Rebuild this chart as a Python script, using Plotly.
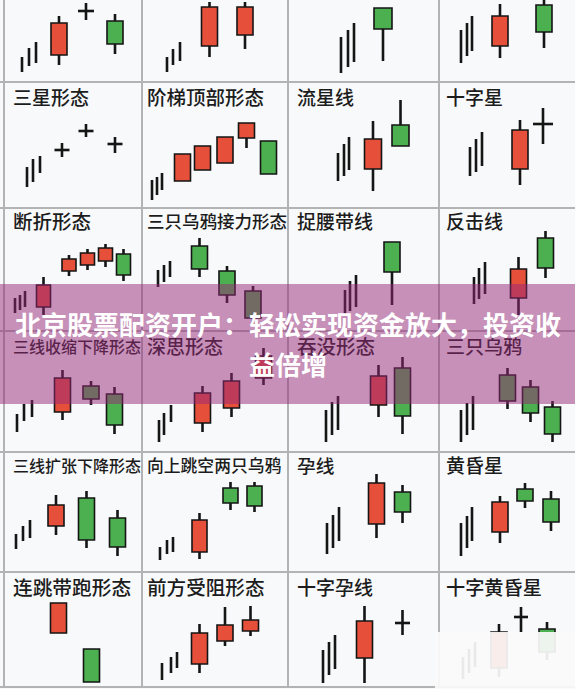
import plotly.graph_objects as go

# ---------------- layout of the grid (pixels) ----------------
FIG_W, FIG_H = 575, 689
COL_EDGES = [4, 142, 288, 439, 575]
ROW_EDGES = [0, 82, 208, 331, 452, 572, 687]

# ---------------- data ----------------
# trend sticks: (x, low, high) ; candles: (x, open, high, low, close)
# prices are measured upward from the bottom of each panel
R0C0_TREND = [(18, 10, 25), (25, 16, 34), (32, 19, 40)]
R0C0_CANDLES = [(55, 27, 66, 17, 59), (82, 71, 79, 62, 71), (111, 61, 68, 28, 38)]
R0C1_TREND = [(25, 10, 25), (31, 17, 33), (38, 21, 40)]
R0C1_CANDLES = [(67.5, 36, 80, 25, 75), (103, 47, 80, 33, 75)]
R0C2_TREND = [(53, 9, 45), (60, 15, 52), (66, 20, 59)]
R0C2_CANDLES = [(95, 74, 74, 21, 53)]
R0C3_TREND = [(22, 19, 52), (28, 26, 59), (33, 31, 66)]
R0C3_CANDLES = [(61, 36, 78, 24, 66), (105, 77, 82, 34, 50)]

SANXING_TREND = [(23, 21, 41), (29, 26, 49), (36, 35, 52)]
SANXING_CANDLES = [(58, 58, 65, 51, 58), (82, 77, 84, 71, 77), (111, 64, 71, 55, 64)]
JIETI_TREND = [(10, 8, 28), (15, 13, 31), (20, 18, 35)]
JIETI_CANDLES = [(40.5, 27, 54, 27, 54), (60.5, 38, 62, 38, 62), (83, 45, 71, 45, 71),
                 (104.5, 70, 85, 60, 85), (126.5, 67, 67, 34, 34)]
LIUXING_TREND = [(50, 27, 55), (56, 32, 64), (61, 38, 71)]
LIUXING_CANDLES = [(85, 39, 87, 17, 69), (112.5, 83, 108, 62, 62)]
SHIZIXING_TREND = [(31, 32, 61), (37, 36, 69), (43, 42, 76)]
SHIZIXING_CANDLES = [(81, 39, 88, 23, 78), (104, 84, 100, 64, 84)]

DUANZHE_TREND = [(11, 18, 33), (16, 21, 36), (21, 24, 40)]
DUANZHE_CANDLES = [(39.5, 24, 54, 16, 46), (65, 60, 76, 55, 72), (83.5, 66, 82, 61, 78),
                   (101.5, 70, 87, 64, 83), (119.5, 77, 82, 50, 56)]
SANZHI_JIELI_TREND = [(16, 44, 61), (22, 49, 66), (28, 54, 70)]
SANZHI_JIELI_CANDLES = [(57.5, 85, 93, 54, 62), (85, 60, 65, 28, 36), (111, 40, 45, 6, 13)]
ZHUOYAO_TREND = [(57, 16, 41), (62, 20, 50), (68, 24, 56)]
ZHUOYAO_CANDLES = [(104, 89, 89, 26, 59)]
FANJI_TREND = [(35, 27, 54), (40, 32, 63), (46, 37, 69)]
FANJI_CANDLES = [(79.5, 33, 74, 16, 62), (106.5, 93, 100, 53, 63)]

SHOUSUO_TREND = [(13, 20, 38), (20, 31, 48), (28, 35, 52)]
SHOUSUO_CANDLES = [(58.5, 40, 82, 32, 74), (87, 66, 71, 47, 53), (110.5, 58, 65, 18, 27)]
SHENSI_TREND = [(17, 10, 32), (22, 17, 39), (29, 30, 47)]
SHENSI_CANDLES = [(60.5, 29, 66, 20, 59), (89.5, 44, 79, 35, 71), (121.5, 74, 104, 67, 96)]
TUNMO_TREND = [(38, 10, 42), (44, 17, 50), (50, 22, 56)]
TUNMO_CANDLES = [(90.5, 47, 87, 35, 76), (114.5, 84, 95, 18, 36)]
SANZHI_TREND = [(22, 10, 42), (28, 17, 49), (34, 22, 56)]
SANZHI_CANDLES = [(68.5, 77, 84, 43, 51), (91.5, 65, 72, 30, 39), (113.5, 45, 51, 10, 18)]

KUOZHANG_TREND = [(12, 23, 38), (19, 31, 46), (26, 34, 52)]
KUOZHANG_CANDLES = [(52, 46, 77, 37, 67), (82.5, 74, 81, 24, 32), (113.5, 54, 62, 16, 25)]
TIAOKONG_TREND = [(18, 12, 25), (25, 18, 32), (31, 20, 35)]
TIAOKONG_CANDLES = [(57.5, 20, 59, 13, 52), (88.5, 84, 90, 62, 69), (112.5, 86, 90, 60, 66)]
YUNXIAN_TREND = [(39, 18, 49), (45, 24, 57), (51, 31, 65)]
YUNXIAN_CANDLES = [(88.5, 48, 98, 34, 89), (114.5, 80, 87, 49, 60)]
HUANGHUN_TREND = [(22, 16, 49), (28, 24, 56), (33, 31, 65)]
HUANGHUN_CANDLES = [(61, 40, 76, 29, 70), (86, 83, 89, 64, 71), (112, 73, 81, 41, 50)]

LIANTIAO_TREND = []
LIANTIAO_CANDLES = [(54.5, 54, 84, 54, 84), (87.5, 38, 38, 5, 5)]
SHOUZU_TREND = [(20, 7, 24), (29, 14, 30), (35, 19, 35)]
SHOUZU_CANDLES = [(57.5, 23, 63, 14, 54), (83, 46, 80, 41, 62), (108.5, 56, 81, 51, 67)]
SHIZIYUN_TREND = [(35, 4, 37), (41, 12, 45), (47, 18, 52)]
SHIZIYUN_CANDLES = [(76.5, 29, 81, 4, 66), (114.5, 64, 77, 52, 64)]
SHIZIHUANG_TREND = [(24, 8, 30), (30, 14, 38), (36, 20, 45)]
SHIZIHUANG_CANDLES = [(60, 19, 63, 10, 55), (82, 70, 80, 55, 70), (108, 58, 65, 27, 35)]

TITLES = [
    ["", "", "", ""],
    ["三星形态", "阶梯顶部形态", "流星线", "十字星"],
    ["断折形态", "三只乌鸦接力形态", "捉腰带线", "反击线"],
    ["三线收缩下降形态", "深思形态", "吞没形态", "三只乌鸦"],
    ["三线扩张下降形态", "向上跳空两只乌鸦", "孕线", "黄昏星"],
    ["连跳带跑形态", "前方受阻形态", "十字孕线", "十字黄昏星"],
]

BANNER_LINE1 = "北京股票配资开户：轻松实现资金放大，投资收"
BANNER_LINE2 = "益倍增"

PANELS = [
    [(R0C0_TREND, R0C0_CANDLES), (R0C1_TREND, R0C1_CANDLES), (R0C2_TREND, R0C2_CANDLES), (R0C3_TREND, R0C3_CANDLES)],
    [(SANXING_TREND, SANXING_CANDLES), (JIETI_TREND, JIETI_CANDLES), (LIUXING_TREND, LIUXING_CANDLES), (SHIZIXING_TREND, SHIZIXING_CANDLES)],
    [(DUANZHE_TREND, DUANZHE_CANDLES), (SANZHI_JIELI_TREND, SANZHI_JIELI_CANDLES), (ZHUOYAO_TREND, ZHUOYAO_CANDLES), (FANJI_TREND, FANJI_CANDLES)],
    [(SHOUSUO_TREND, SHOUSUO_CANDLES), (SHENSI_TREND, SHENSI_CANDLES), (TUNMO_TREND, TUNMO_CANDLES), (SANZHI_TREND, SANZHI_CANDLES)],
    [(KUOZHANG_TREND, KUOZHANG_CANDLES), (TIAOKONG_TREND, TIAOKONG_CANDLES), (YUNXIAN_TREND, YUNXIAN_CANDLES), (HUANGHUN_TREND, HUANGHUN_CANDLES)],
    [(LIANTIAO_TREND, LIANTIAO_CANDLES), (SHOUZU_TREND, SHOUZU_CANDLES), (SHIZIYUN_TREND, SHIZIYUN_CANDLES), (SHIZIHUANG_TREND, SHIZIHUANG_CANDLES)],
]

# ---------------- styles ----------------
BODY_W = [[16, 16, 18, 16], [15, 16, 17, 16], [14, 16, 16, 16], [16, 16, 16, 16], [16, 15, 16, 16], [16, 16, 16, 16]]
CROSS_HW = [[8, 8, 8, 10], [7.5, 8, 8, 10], [8, 8, 8, 8], [8, 8, 8, 8], [8, 8, 8, 8], [8, 8, 7.5, 7]]
TITLE_SIZE = [[19] * 4, [19, 19.5, 19, 19], [19.5, 17.5, 19, 19], [16, 19, 19.5, 19], [16, 16.8, 18.7, 19], [19.7, 19.6, 19, 19.2]]
TITLE_DX = [9, 5, 9, 7]
TITLE_DY = [0, 18, 16, 18, 16, 18]
RED = "#e6503a"
GREEN = "#4caf50"
INK = "#151515"
BG = "#f7f9fa"
GRID = "#b3b3b3"
FONT = "Noto Sans CJK SC"

fig = go.Figure()
layout_axes = {}

for r in range(6):
    for c in range(4):
        idx = r * 4 + c + 1
        sfx = "" if idx == 1 else str(idx)
        xa, ya = "x" + sfx, "y" + sfx
        left, right = COL_EDGES[c], COL_EDGES[c + 1]
        top, bottom = ROW_EDGES[r], ROW_EDGES[r + 1]
        w, h = right - left, bottom - top
        layout_axes["xaxis" + sfx] = dict(domain=[left / FIG_W, right / FIG_W], range=[0, w],
                                          visible=False, fixedrange=True, anchor=ya)
        layout_axes["yaxis" + sfx] = dict(domain=[1 - bottom / FIG_H, 1 - top / FIG_H], range=[0, h],
                                          visible=False, fixedrange=True, anchor=xa)
        trend, candles = PANELS[r][c]
        bw = BODY_W[r][c]
        hw = CROSS_HW[r][c]

        # trend sticks
        sx, sy = [], []
        for (x, lo, hi) in trend:
            sx += [x, x, None]
            sy += [lo, hi, None]
        # wicks (outside the body) and doji crosses
        wx, wy = [], []
        bx, bbase, bh, bcol = [], [], [], []
        for (x, o, hi, lo, cl) in candles:
            top_b, bot_b = max(o, cl), min(o, cl)
            if hi > top_b:
                wx += [x, x, None]
                wy += [top_b, hi, None]
            if lo < bot_b:
                wx += [x, x, None]
                wy += [lo, bot_b, None]
            if o == cl:
                wx += [x - hw, x + hw, None]
                wy += [o, o, None]
            else:
                bx.append(x)
                bbase.append(bot_b)
                bh.append(top_b - bot_b)
                bcol.append(RED if cl > o else GREEN)
        if sx:
            fig.add_trace(go.Scatter(x=sx, y=sy, mode="lines", line=dict(color=INK, width=2.6),
                                     xaxis=xa, yaxis=ya, hoverinfo="skip", showlegend=False))
        if wx:
            fig.add_trace(go.Scatter(x=wx, y=wy, mode="lines", line=dict(color=INK, width=2.6),
                                     xaxis=xa, yaxis=ya, hoverinfo="skip", showlegend=False))
        if bx:
            fig.add_trace(go.Bar(x=bx, y=bh, base=bbase, width=bw,
                                 marker=dict(color=bcol, line=dict(color=INK, width=1.6)),
                                 xaxis=xa, yaxis=ya, hoverinfo="skip", showlegend=False))
        if TITLES[r][c]:
            fig.add_trace(go.Scatter(x=[TITLE_DX[c]], y=[h - TITLE_DY[r]], mode="text",
                                     text=[TITLES[r][c]], textposition="middle right",
                                     textfont=dict(family=FONT, size=TITLE_SIZE[r][c], color="#1c1c1c",
                                                   weight=500),
                                     xaxis=xa, yaxis=ya, hoverinfo="skip", showlegend=False,
                                     cliponaxis=False))

shapes = []
for xe in COL_EDGES[:-1]:
    shapes.append(dict(type="line", xref="paper", yref="paper", x0=xe / FIG_W, x1=xe / FIG_W,
                       y0=1 - ROW_EDGES[-1] / FIG_H, y1=1, line=dict(color=GRID, width=2)))
for ye in ROW_EDGES[1:]:
    shapes.append(dict(type="line", xref="paper", yref="paper", x0=0, x1=1,
                       y0=1 - ye / FIG_H, y1=1 - ye / FIG_H, line=dict(color=GRID, width=2)))
# banner
shapes.append(dict(type="rect", xref="paper", yref="paper", x0=0, x1=1,
                   y0=1 - 404 / FIG_H, y1=1 - 284 / FIG_H, line=dict(width=0),
                   fillcolor="rgba(150,40,120,0.5)"))
# watermark blur
shapes.append(dict(type="rect", xref="paper", yref="paper", x0=435 / FIG_W, x1=1,
                   y0=0, y1=1 - 632 / FIG_H, line=dict(width=0),
                   fillcolor="rgba(250,250,250,0.93)"))

annotations = [
    dict(text="<b>" + BANNER_LINE1 + "</b>", xref="paper", yref="paper", x=0.5, y=1 - 324 / FIG_H,
         showarrow=False, font=dict(family=FONT, size=26, color="white"), xanchor="center", yanchor="middle"),
    dict(text="<b>" + BANNER_LINE2 + "</b>", xref="paper", yref="paper", x=0.5, y=1 - 363 / FIG_H,
         showarrow=False, font=dict(family=FONT, size=26, color="white"), xanchor="center", yanchor="middle"),
]

fig.update_layout(width=FIG_W, height=FIG_H, margin=dict(l=0, r=0, t=0, b=0),
                  paper_bgcolor=BG, plot_bgcolor=BG, barmode="overlay", showlegend=False,
                  shapes=shapes, annotations=annotations, **layout_axes)

fig.write_html("out.html", config={"displayModeBar": False},
               post_script="document.body.style.margin='0';document.body.style.padding='0';document.body.style.overflow='hidden';document.body.style.background='" + BG + "';")
